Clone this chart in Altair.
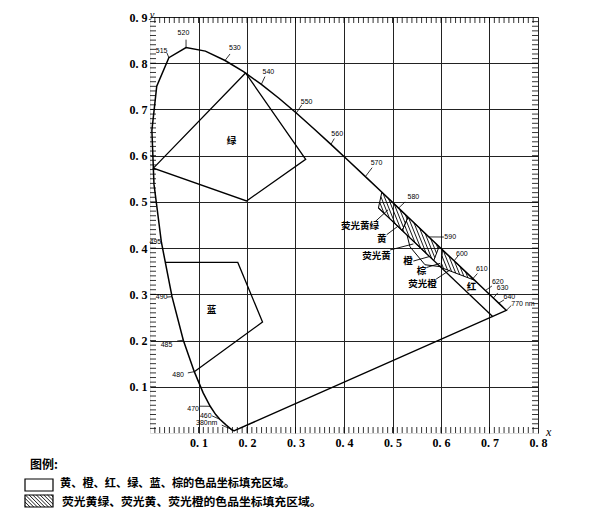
import altair as alt
import pandas as pd
import numpy as np

W, H = 388, 416
XMAX, YMAX = 0.8, 0.9

# ---- spectral locus (CIE 1931, as drawn) ----
wl = [380, 400, 420, 430, 440, 450, 460, 465, 470, 475, 480, 485, 490, 495, 500, 505, 510, 515,
      520, 525, 530, 535, 540, 545, 550, 555, 560, 565, 570, 575, 580, 585, 590, 595, 600, 605,
      610, 615, 620, 630, 640, 650, 660, 680, 700]
loc_x = [0.1741, 0.1733, 0.1714, 0.1689, 0.1644, 0.1566, 0.1440, 0.1355, 0.1241, 0.1096, 0.0913,
         0.0687, 0.0454, 0.0235, 0.0082, 0.0039, 0.0139, 0.0389, 0.0743, 0.1142, 0.1547, 0.1929,
         0.2296, 0.2658, 0.3016, 0.3373, 0.3731, 0.4087, 0.4441, 0.4788, 0.5125, 0.5448, 0.5752,
         0.6029, 0.6270, 0.6482, 0.6658, 0.6801, 0.6915, 0.7079, 0.7190, 0.7260, 0.7300, 0.7334,
         0.7347]
loc_y = [0.0050, 0.0048, 0.0051, 0.0069, 0.0109, 0.0177, 0.0297, 0.0399, 0.0578, 0.0868, 0.1327,
         0.2007, 0.2950, 0.4127, 0.5384, 0.6548, 0.7502, 0.8120, 0.8338, 0.8262, 0.8059, 0.7816,
         0.7543, 0.7243, 0.6923, 0.6589, 0.6245, 0.5896, 0.5547, 0.5202, 0.4866, 0.4544, 0.4242,
         0.3965, 0.3725, 0.3514, 0.3340, 0.3197, 0.3083, 0.2920, 0.2809, 0.2740, 0.2700, 0.2666,
         0.2653]

# ---- colour regions ----
green_x = [0.197, 0.321, 0.199, 0.007]
green_y = [0.779, 0.592, 0.502, 0.573]
blue_x = [0.032, 0.181, 0.232, 0.0913]
blue_y = [0.369, 0.369, 0.240, 0.1327]
inner_x = [0.471, 0.707]
inner_y = [0.487, 0.2515]
brown_x = [0.530, 0.536, 0.567, 0.598]
brown_y = [0.428, 0.403, 0.364, 0.360]
fyg_x = [0.478, 0.532, 0.520, 0.471]
fyg_y = [0.521, 0.467, 0.438, 0.487]
fy_x = [0.532, 0.596, 0.585, 0.520]
fy_y = [0.467, 0.403, 0.373, 0.438]
fo_x = [0.603, 0.668, 0.600]
fo_y = [0.396, 0.331, 0.358]

# ---- wavelength labels ----
wl_text = ["520", "515", "530", "540", "550", "560", "570", "580", "590", "600", "610", "620",
           "630", "640", "770 nm", "495", "490", "485", "480", "470", "460", "380nm"]
wl_at = [520, 515, 530, 540, 550, 560, 570, 580, 590, 600, 610, 620, 630, 640, 700, 495, 490,
         485, 480, 470, 460, 380]
wl_tx = [0.069, 0.024, 0.175, 0.244, 0.323, 0.386, 0.467, 0.543, 0.619, 0.643, 0.684, 0.717,
         0.727, 0.741, 0.769, 0.011, 0.024, 0.034, 0.058, 0.089, 0.115, 0.117]
wl_ty = [0.865, 0.827, 0.833, 0.780, 0.717, 0.647, 0.585, 0.511, 0.424, 0.387, 0.354, 0.327,
         0.314, 0.295, 0.280, 0.414, 0.295, 0.190, 0.126, 0.053, 0.037, 0.021]
wl_ex = [0.0743, 0.035, 0.165, 0.237, 0.313, 0.380, 0.458, 0.526, 0.606, 0.635, 0.675, 0.705,
         0.717, 0.730, 0.745, 0.0235, 0.035, 0.056, 0.078, 0.103, 0.128, 0.148]
wl_ey = [0.851, 0.822, 0.820, 0.771, 0.710, 0.637, 0.574, 0.500, 0.424, 0.383, 0.345, 0.318,
         0.303, 0.288, 0.276, 0.4127, 0.294, 0.199, 0.130, 0.058, 0.037, 0.017]

# ---- region labels ----
reg_text = ["绿", "蓝", "荧光黄绿", "黄", "荧光黄", "橙", "棕", "荧光橙", "红"]
reg_tx = [0.168, 0.127, 0.433, 0.478, 0.467, 0.532, 0.560, 0.562, 0.663]
reg_ty = [0.632, 0.266, 0.447, 0.419, 0.383, 0.373, 0.351, 0.322, 0.315]
lead_x = [0.464, 0.488, 0.495, 0.543, 0.570, 0.590]
lead_y = [0.457, 0.429, 0.396, 0.372, 0.358, 0.333]
lead_x2 = [0.491, 0.512, 0.543, 0.577, 0.598, 0.619]
lead_y2 = [0.483, 0.448, 0.409, 0.382, 0.367, 0.353]

x_ticks = [0.1, 0.2, 0.3, 0.4, 0.5, 0.6, 0.7, 0.8]
y_ticks = [0.1, 0.2, 0.3, 0.4, 0.5, 0.6, 0.7, 0.8, 0.9]
minor_x = [i / 100 for i in range(1, 80)]
minor_y = [i / 100 for i in range(1, 90)]

legend_title = "图例:"
legend_1 = "黄、橙、红、绿、蓝、棕的色品坐标填充区域。"
legend_2 = "荧光黄绿、荧光黄、荧光橙的色品坐标填充区域。"

# ---------------------------------------------------------------
xs = alt.Scale(domain=[0, XMAX], nice=False, zero=False)
ys = alt.Scale(domain=[0, YMAX], nice=False, zero=False)
lab_expr = "replace(format(datum.value, '.1f'), '.', '. ')"
common_axis = dict(grid=True, gridColor="#222", gridWidth=1, ticks=False, domain=False,
                   labelExpr=lab_expr, labelFont="Liberation Serif", labelFontWeight="bold",
                   labelFontSize=12, labelColor="black", title=None, labelFlush=False)
xaxis = alt.Axis(values=x_ticks, labelPadding=4, **common_axis)
yaxis = alt.Axis(values=y_ticks, labelPadding=3, **common_axis)


def X(f="x"):
    return alt.X(f"{f}:Q", scale=xs, axis=xaxis)


def Y(f="y"):
    return alt.Y(f"{f}:Q", scale=ys, axis=yaxis)


def poly_df(px, py, close=True):
    xx = list(px) + ([px[0]] if close else [])
    yy = list(py) + ([py[0]] if close else [])
    return pd.DataFrame({"x": xx, "y": yy, "i": range(len(xx))})


def to_px(x, y):
    return np.array([x / XMAX * W, (YMAX - y) / YMAX * H])


def to_data(p):
    return p[0] * XMAX / W, YMAX - p[1] * YMAX / H


def hatch(px_pts, dvec, spacing):
    P = np.array(px_pts, float)
    d = np.array(dvec, float)
    d /= np.linalg.norm(d)
    n = np.array([-d[1], d[0]])
    proj = P @ n
    segs = []
    c = proj.min() + spacing / 2
    while c < proj.max():
        pts = []
        for k in range(len(P)):
            p1, p2 = P[k], P[(k + 1) % len(P)]
            s1, s2 = p1 @ n - c, p2 @ n - c
            if (s1 < 0) != (s2 < 0):
                t = s1 / (s1 - s2)
                pts.append(p1 + t * (p2 - p1))
        pts.sort(key=lambda p: p @ d)
        for a in range(0, len(pts) - 1, 2):
            segs.append((pts[a], pts[a + 1]))
        c += spacing
    return segs


rows = []
for hx, hy in [(fyg_x, fyg_y), (fy_x, fy_y), (fo_x, fo_y)]:
    pts = [to_px(a, b) for a, b in zip(hx, hy)]
    for p, q in hatch(pts, (1, 2.5), 3.2):
        x1, y1 = to_data(p)
        x2, y2 = to_data(q)
        rows.append({"x": x1, "y": y1, "x2": x2, "y2": y2})
hatch_df = pd.DataFrame(rows)

dummy = pd.DataFrame({"a": [0]})
layers = []

# minor ticks (inward) on all four sides
tx_df = pd.DataFrame({"x": minor_x})
ty_df = pd.DataFrame({"y": minor_y})
tick_style = dict(color="black", strokeWidth=0.8)
layers.append(alt.Chart(tx_df).mark_rule(**tick_style).encode(x=X(), y=alt.value(H), y2=alt.value(H - 6)))
layers.append(alt.Chart(tx_df).mark_rule(**tick_style).encode(x=X(), y=alt.value(0), y2=alt.value(6)))
layers.append(alt.Chart(ty_df).mark_rule(**tick_style).encode(y=Y(), x=alt.value(0), x2=alt.value(6)))
layers.append(alt.Chart(ty_df).mark_rule(**tick_style).encode(y=Y(), x=alt.value(W), x2=alt.value(W - 6)))

# spectral locus + purple line
locus = poly_df(loc_x, loc_y, close=True)
layers.append(alt.Chart(locus).mark_line(color="black", strokeWidth=1.5).encode(x=X(), y=Y(), order="i:Q"))

line_style = dict(color="black", strokeWidth=1.3)
layers.append(alt.Chart(poly_df(green_x, green_y)).mark_line(**line_style).encode(x=X(), y=Y(), order="i:Q"))
layers.append(alt.Chart(poly_df(blue_x, blue_y, close=False)).mark_line(**line_style).encode(x=X(), y=Y(), order="i:Q"))
layers.append(alt.Chart(poly_df(inner_x, inner_y, close=False)).mark_line(**line_style).encode(x=X(), y=Y(), order="i:Q"))
layers.append(alt.Chart(poly_df(brown_x, brown_y, close=False)).mark_line(color="black", strokeWidth=1).encode(x=X(), y=Y(), order="i:Q"))
for hx, hy in [(fyg_x, fyg_y), (fy_x, fy_y), (fo_x, fo_y)]:
    layers.append(alt.Chart(poly_df(hx, hy)).mark_line(color="black", strokeWidth=1).encode(x=X(), y=Y(), order="i:Q"))
layers.append(alt.Chart(hatch_df).mark_rule(color="black", strokeWidth=0.9).encode(
    x=X("x"), y=Y("y"), x2="x2:Q", y2="y2:Q"))

# wavelength leaders and labels
wl_sx = [loc_x[wl.index(w)] for w in wl_at]
wl_sy = [loc_y[wl.index(w)] for w in wl_at]
wl_df = pd.DataFrame({"t": wl_text, "tx": wl_tx, "ty": wl_ty, "sx": wl_sx, "sy": wl_sy,
                      "ex": wl_ex, "ey": wl_ey})
layers.append(alt.Chart(wl_df).mark_rule(color="black", strokeWidth=0.8).encode(
    x=X("sx"), y=Y("sy"), x2="ex:Q", y2="ey:Q"))
layers.append(alt.Chart(wl_df).mark_text(font="Liberation Sans", fontSize=7, color="black",
                                         baseline="middle").encode(x=X("tx"), y=Y("ty"), text="t:N"))

# region labels
reg_df = pd.DataFrame({"t": reg_text, "x": reg_tx, "y": reg_ty})
layers.append(alt.Chart(reg_df).mark_text(font="Noto Sans CJK SC", fontSize=9.5, fontWeight="bold",
                                          color="black", baseline="middle").encode(x=X(), y=Y(), text="t:N"))
lead_df = pd.DataFrame({"x": lead_x, "y": lead_y, "x2": lead_x2, "y2": lead_y2})
layers.append(alt.Chart(lead_df).mark_rule(color="black", strokeWidth=0.9).encode(
    x=X("x"), y=Y("y"), x2="x2:Q", y2="y2:Q"))

# axis titles
layers.append(alt.Chart(dummy).mark_text(text="x", font="Liberation Serif", fontStyle="italic",
                                         fontSize=12, align="left", baseline="middle").encode(
    x=alt.value(W + 8), y=alt.value(H - 1)))
layers.append(alt.Chart(dummy).mark_text(text="y", font="Liberation Serif", fontStyle="italic",
                                         fontSize=10.5, align="center", baseline="middle").encode(
    x=alt.value(2), y=alt.value(-2)))

# legend below the plot
layers.append(alt.Chart(dummy).mark_text(text=legend_title, font="Noto Sans CJK SC", fontSize=12,
                                         fontWeight="bold", align="left", baseline="middle").encode(
    x=alt.value(-120), y=alt.value(448)))
bx0, bx1 = -125, -97
for (y0, y1) in [(462, 474), (478, 490)]:
    layers.append(alt.Chart(dummy).mark_rect(fill="white", stroke="black", strokeWidth=1.2).encode(
        x=alt.value(bx0), x2=alt.value(bx1), y=alt.value(y0), y2=alt.value(y1)))
box_pts = [(bx0, 478), (bx1, 478), (bx1, 490), (bx0, 490)]
for p, q in hatch(box_pts, (1, 1), 2.6):
    layers.append(alt.Chart(dummy).mark_rule(color="black", strokeWidth=0.9).encode(
        x=alt.value(float(p[0])), y=alt.value(float(p[1])),
        x2=alt.value(float(q[0])), y2=alt.value(float(q[1]))))
layers.append(alt.Chart(dummy).mark_text(text=legend_1, font="Noto Sans CJK SC", fontSize=11.2,
                                         fontWeight="bold", align="left", baseline="middle").encode(
    x=alt.value(-90), y=alt.value(467)))
layers.append(alt.Chart(dummy).mark_text(text=legend_2, font="Noto Sans CJK SC", fontSize=11.8,
                                         fontWeight="bold", align="left", baseline="middle").encode(
    x=alt.value(-88), y=alt.value(484.5)))

chart = alt.layer(*layers).properties(
    width=W, height=H,
    autosize=alt.AutoSizeParams(type="none"),
    padding={"left": 142, "top": 9, "right": 50, "bottom": 80},
).configure_view(stroke="black", strokeWidth=1.3).configure(background="white")

chart.save("out.html", embed_options={"renderer": "svg", "actions": False})
